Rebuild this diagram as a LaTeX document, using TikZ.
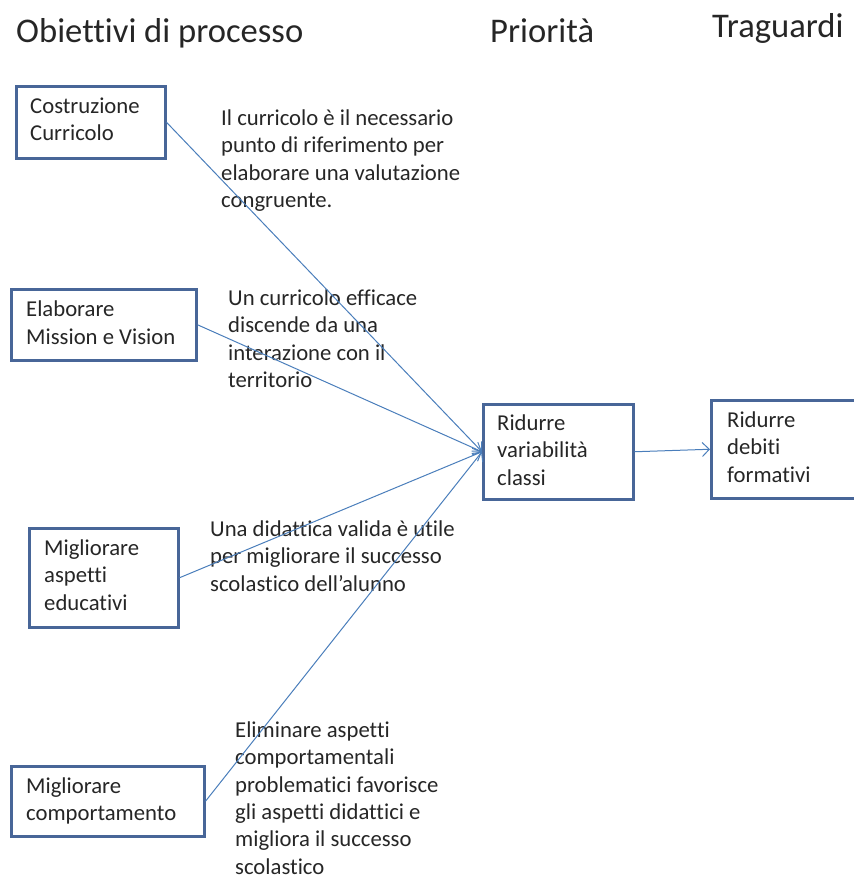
\documentclass[tikz,border=0pt]{standalone}
\usepackage{fontspec}
\setmainfont{Carlito}[Ligatures=NoCommon]
\usetikzlibrary{arrows.meta}
\definecolor{boxblue}{RGB}{72,102,152}
\definecolor{arrowblue}{RGB}{74,126,187}
\definecolor{txtgray}{RGB}{38,38,38}
\tikzset{
  boxnode/.style={draw=boxblue, line width=2.5pt, fill=white, rectangle, inner sep=0pt, anchor=north west},
  bodytxt/.style={font=\fontsize{22.7}{27.4}\selectfont, text=txtgray, align=left, inner sep=0pt, anchor=north west},
  titletxt/.style={font=\fontsize{34.6}{40}\selectfont, text=txtgray, inner sep=0pt, anchor=base west},
  conn/.style={draw=arrowblue, line width=1pt, -{Straight Barb[length=7pt,width=14pt,line width=1pt]}}
}
\begin{document}
\begin{tikzpicture}[x=1pt,y=-1pt]
\useasboundingbox (0,0) rectangle (854,876);
\clip (0,0) rectangle (854,876);
% titles
\node[titletxt] (t1) at (16,42) {Obiettivi di processo};
\node[titletxt] (t2) at (490,42) {Priorità};
\node[titletxt] (t3) at (712,37) {Traguardi};
% boxes
\node[boxnode, minimum width=149pt, minimum height=72pt] (b1) at (15,85) {};
\node[boxnode, minimum width=185pt, minimum height=71pt] (b2) at (10,288) {};
\node[boxnode, minimum width=149pt, minimum height=99pt] (b3) at (28,527) {};
\node[boxnode, minimum width=193pt, minimum height=70pt] (b4) at (10,765) {};
\node[boxnode, minimum width=150pt, minimum height=95pt] (b5) at (482,403) {};
\node[boxnode, minimum width=160pt, minimum height=98pt] (b6) at (710,399) {};
% box texts
\node[bodytxt] (l1) at ([shift={(15,8.9)}]b1.north west) {\strut Costruzione\\Curricolo};
\node[bodytxt] (l2) at ([shift={(16,9.5)}]b2.north west) {\strut Elaborare\\Mission e Vision};
\node[bodytxt] (l3) at ([shift={(16,8.9)}]b3.north west) {\strut Migliorare\\aspetti\\educativi};
\node[bodytxt] (l4) at ([shift={(16,8.9)}]b4.north west) {\strut Migliorare\\comportamento};
\node[bodytxt] (l5) at ([shift={(15,7.9)}]b5.north west) {\strut Ridurre\\variabilità\\classi};
\node[bodytxt] (l6) at ([shift={(17,8.9)}]b6.north west) {\strut Ridurre\\debiti\\formativi};
% free texts
\node[bodytxt] (d1) at (221,105.9) {\strut Il curricolo è il necessario\\punto di riferimento per\\elaborare una valutazione\\congruente.};
\node[bodytxt] (d2) at (228,285.9) {\strut Un curricolo efficace\\discende da una\\interazione con il\\territorio};
\node[bodytxt] (d3) at (210,516.9) {\strut Una didattica valida è utile\\per migliorare il successo\\scolastico dell’alunno};
\node[bodytxt] (d4) at (235,717.9) {\strut Eliminare aspetti\\comportamentali\\problematici favorisce\\gli aspetti didattici e\\migliora il successo\\scolastico};
% connectors
\draw[conn] (b1.east) -- (b5.west);
\draw[conn] (b2.east) -- (b5.west);
\draw[conn] (b3.east) -- (b5.west);
\draw[conn] (b4.east) -- (b5.west);
\draw[conn] (b5.east) -- (b6.west);
\end{tikzpicture}
\end{document}
